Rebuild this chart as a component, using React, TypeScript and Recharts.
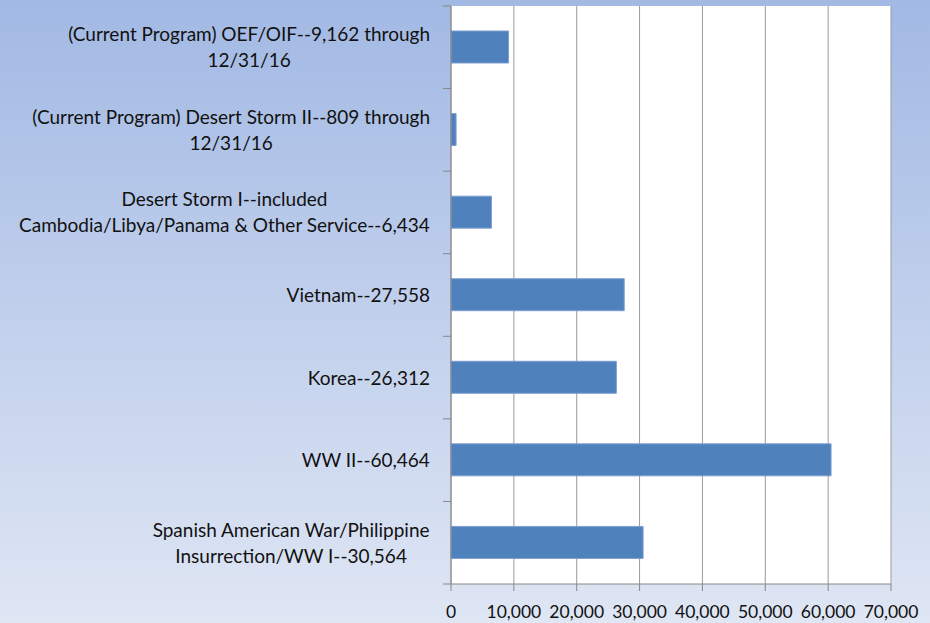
import { Bar, BarChart, CartesianGrid, XAxis, YAxis } from "recharts";

const categories = [
  "(Current Program) OEF/OIF--9,162 through\n12/31/16",
  "(Current Program) Desert Storm II--809 through\n12/31/16",
  "Desert Storm I--included\nCambodia/Libya/Panama & Other Service--6,434",
  "Vietnam--27,558",
  "Korea--26,312",
  "WW II--60,464",
  "Spanish American War/Philippine\nInsurrection/WW I--30,564",
];
const values = [9162, 809, 6434, 27558, 26312, 60464, 30564];
const xTicks = [0, 10000, 20000, 30000, 40000, 50000, 60000, 70000];

const data = categories.map((name, i) => ({ name, value: values[i] }));

const W = 930;
const H = 623;
const AXIS_X = 451;
const TOP = 6;
const BOTTOM = 39;
const BAND = (H - TOP - BOTTOM) / categories.length;
const FONT = "Lato, 'Open Sans', sans-serif";
const FONT_SIZE = 19;
const AXIS_COLOR = "#868686";

let ctx: CanvasRenderingContext2D | null = null;
function measure(s: string) {
  if (!ctx) ctx = document.createElement("canvas").getContext("2d");
  if (!ctx) return s.length * 9;
  ctx.font = `${FONT_SIZE}px Lato`;
  return ctx.measureText(s).width;
}

function CategoryTick(props: any) {
  const { x, y, payload, index } = props;
  const lines: string[] = String(payload.value).split("\n");
  const widest = Math.max(...lines.map(measure));
  const cx = x - widest / 2;
  const lh = 26;
  return (
    <g>
      <line x1={AXIS_X - 8} x2={AXIS_X} y1={y - BAND / 2} y2={y - BAND / 2} stroke={AXIS_COLOR} />
      {index === categories.length - 1 && (
        <line x1={AXIS_X - 8} x2={AXIS_X} y1={y + BAND / 2} y2={y + BAND / 2} stroke={AXIS_COLOR} />
      )}
      {lines.map((l, i) => (
        <text
          key={i}
          x={cx}
          y={y + (i - (lines.length - 1) / 2) * lh + 7}
          textAnchor="middle"
          fill="#111"
          fontSize={FONT_SIZE}
          fontFamily={FONT}
        >
          {l}
        </text>
      ))}
    </g>
  );
}

export default function App() {
  return (
    <div
      style={{
        position: "absolute",
        left: 0,
        top: 0,
        width: W,
        height: H,
        background: "linear-gradient(to bottom, #a2b9e4, #dfe6f4)",
      }}
    >
      <BarChart
        width={W}
        height={H}
        data={data}
        layout="vertical"
        margin={{ top: TOP, right: 39, bottom: 0, left: 0 }}
        barSize={32}
      >
        <CartesianGrid horizontal={false} stroke="#9a9a9a" fill="#ffffff" />
        <XAxis
          type="number"
          domain={[0, 70000]}
          ticks={xTicks}
          interval={0}
          height={BOTTOM}
          tickSize={7}
          tickMargin={15}
          stroke={AXIS_COLOR}
          tick={{ fill: "#111", fontSize: 17.5, fontFamily: FONT }}
          tickFormatter={(v: number) => v.toLocaleString("en-US")}
        />
        <YAxis
          type="category"
          dataKey="name"
          width={AXIS_X}
          tickSize={8}
          tickMargin={13}
          tickLine={false}
          interval={0}
          stroke={AXIS_COLOR}
          tick={<CategoryTick />}
        />
        <Bar dataKey="value" fill="#4f81bd" stroke="#7f9fd0" strokeWidth={1} isAnimationActive={false} />
      </BarChart>
    </div>
  );
}
